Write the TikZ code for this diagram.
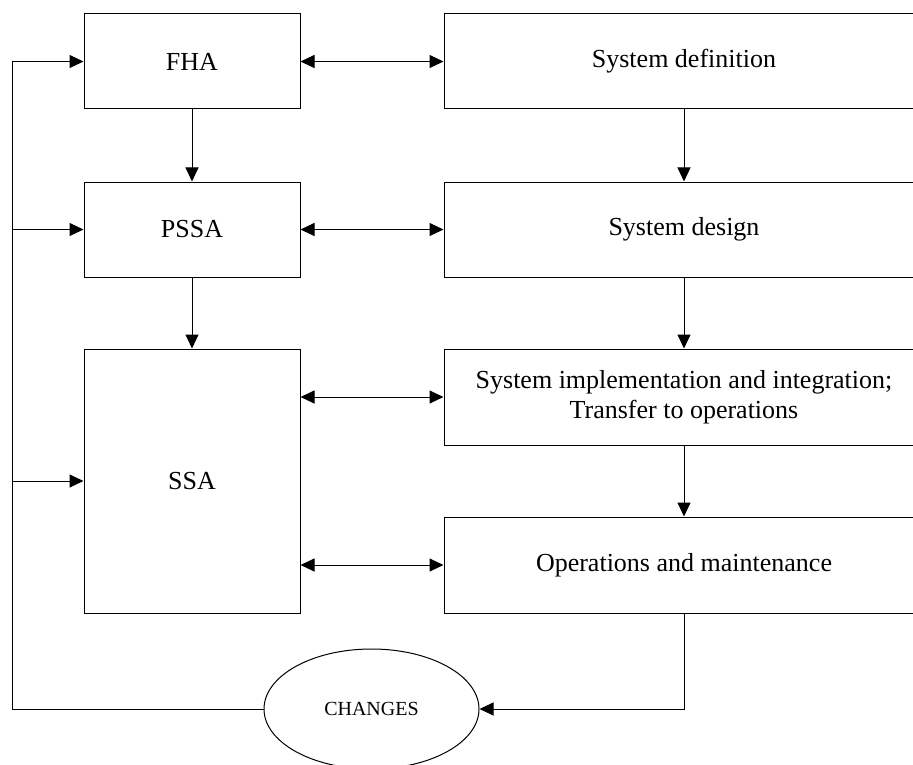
\documentclass[tikz,border=0pt]{standalone}
\usepackage{fontspec}
\setmainfont{Liberation Serif}
\usetikzlibrary{arrows.meta,shapes.geometric}
\begin{document}
\begin{tikzpicture}[x=1pt,y=-1pt,
  line width=1pt,
  tip/.style={-{Triangle[length=14pt,width=13pt]}},
  bitip/.style={{Triangle[length=14pt,width=13pt]}-{Triangle[length=14pt,width=13pt]}},
  box/.style={draw,rectangle,inner sep=0pt,align=center,
    font=\fontsize{26}{30}\selectfont},
  leftbox/.style={box,minimum width=216pt,minimum height=95pt},
  rightbox/.style={box,minimum width=480pt,minimum height=95pt}]
  \clip (0,0) rectangle (913,765);
  \useasboundingbox (0,0) rectangle (913,765);

  % safety assessment column
  \node[leftbox] (fha)  at (192,61.5)  {FHA};
  \node[leftbox] (pssa) at (192,229.5) {PSSA};
  \node[leftbox,minimum height=264pt] (ssa) at (192,481) {SSA};

  % system life-cycle column
  \node[rightbox] (def)    at (684,61.5)  {System definition};
  \node[rightbox] (design) at (684,229.5) {System design};
  \node[rightbox,minimum height=96pt] (impl) at (684,397)
    {System implementation and integration;\\Transfer to operations};
  \node[rightbox,minimum height=96pt] (ops) at (684,565) {Operations and maintenance};

  % change request
  \node[draw,ellipse,inner sep=0pt,minimum width=215pt,minimum height=120pt,
    font=\fontsize{20}{24}\selectfont] (chg) at (371.5,709) {CHANGES};

  % downward flow
  \draw[tip] (fha) -- (pssa);
  \draw[tip] (pssa) -- (ssa);
  \draw[tip] (def) -- (design);
  \draw[tip] (design) -- (impl);
  \draw[tip] (impl) -- (ops);

  % two-way links between the columns
  \draw[bitip] (fha) -- (def);
  \draw[bitip] (pssa) -- (design);
  \draw[bitip] (ssa.east |- impl.west) -- (impl.west);
  \draw[bitip] (ssa.east |- ops.west) -- (ops.west);

  % feedback loop
  \coordinate (fb) at (12,709);
  \draw[tip] (ops.south) |- (chg.east);
  \draw[tip] (chg.west) -- (fb) |- (fha.west);
  \draw[tip] (fb |- pssa.west) -- (pssa.west);
  \draw[tip] (fb |- ssa.west) -- (ssa.west);
\end{tikzpicture}
\end{document}
